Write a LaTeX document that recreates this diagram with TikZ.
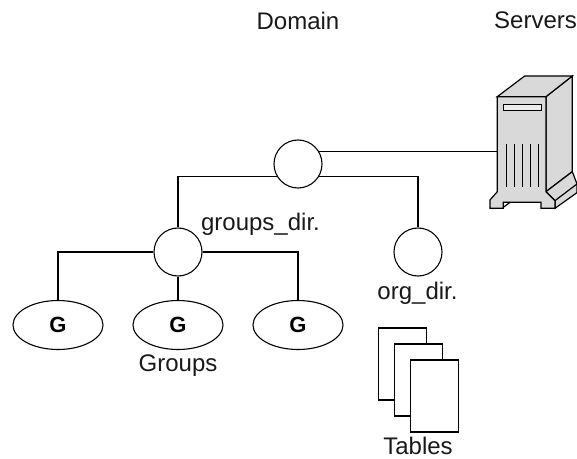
\documentclass[tikz,border=0pt]{standalone}
\usepackage{fontspec}
\setmainfont{Liberation Sans}
\usetikzlibrary{shapes.geometric}
\tikzset{
  x=1bp,y=-1bp,
  ln/.style={line width=1.1bp,line join=miter},
  dom/.style={circle,draw,ln,fill=white,inner sep=0pt,minimum size=48bp},
  grp/.style={ellipse,draw,ln,fill=white,inner sep=0pt,minimum width=90bp,minimum height=49bp,font=\fontsize{22bp}{24bp}\selectfont\bfseries},
  lbl/.style={inner sep=0pt,font=\fontsize{24bp}{26bp}\selectfont,text=black!90},
  page/.style={draw,ln,fill=white,inner sep=0pt,minimum width=48.4bp,minimum height=72bp},
  srv/.style={draw,line width=1.2bp,fill=black!15,line join=miter}
}
\begin{document}
\begin{tikzpicture}
\useasboundingbox (0,0) rectangle (577,459);
% text labels
\node[lbl] (ldomain) at (298,20.5) {Domain};
\node[lbl] (lservers) at (535.5,20.5) {Servers};
\node[lbl] (lgdir) at (260.5,224.5) {groups\_dir.};
\node[lbl] (lorg) at (417.5,293.5) {org\_dir.};
\node[lbl] (lgroups) at (178,365.5) {Groups};
\node[lbl] (ltables) at (418,446) {Tables};
% server
\begin{scope}[shift={(440,70)},x=0.3333bp,y=-0.3333bp]
  \draw[srv] (318,80) -- (397,18) -- (397,305) -- (318,365) -- cycle;
  \draw[srv] (345,415) -- (411,368) -- (411,342) -- (397,305) -- (318,365) -- (345,392) -- cycle;
  \draw[srv] (345,392) -- (411,342);
  \draw[srv] (172,80) -- (254,18) -- (397,18) -- (318,80) -- cycle;
  \draw[srv] (172,80) -- (318,80) -- (318,365) -- (345,392) -- (345,415) -- (303,415) -- (303,397) -- (190,397) -- (190,415) -- (150,415) -- (150,390) -- (172,365) -- cycle;
  \draw[srv] (190,412) -- (210,397);
  \draw[srv,fill=black!8] (190,103) rectangle (304,121);
  \foreach \vx in {199,223,247,271,295} \draw[line width=1.2bp] (\vx,222) -- (\vx,352);
  \coordinate (port) at (172,247);
\end{scope}
% tables
\node[page] (t1) at (402.5,364) {};
\node[page] (t2) at (418.5,380) {};
\node[page] (t3) at (434.5,396) {};
% tree
\node[dom] (root) at (298,164) {};
\node[dom] (gdir) at (178,252) {};
\node[dom] (org) at (418,252) {};
\node[grp] (g1) at (58,325) {G};
\node[grp] (g2) at (178,325) {G};
\node[grp] (g3) at (298,325) {G};
\draw[ln] (root.30) -- (root.30 -| port);
\draw[ln] (root.210) -| (gdir.north);
\draw[ln] (root.330) -| (org.north);
\draw[ln] (gdir.west) -| (g1.north);
\draw[ln] (gdir.south) -- (g2.north);
\draw[ln] (gdir.east) -| (g3.north);
\end{tikzpicture}
\end{document}
